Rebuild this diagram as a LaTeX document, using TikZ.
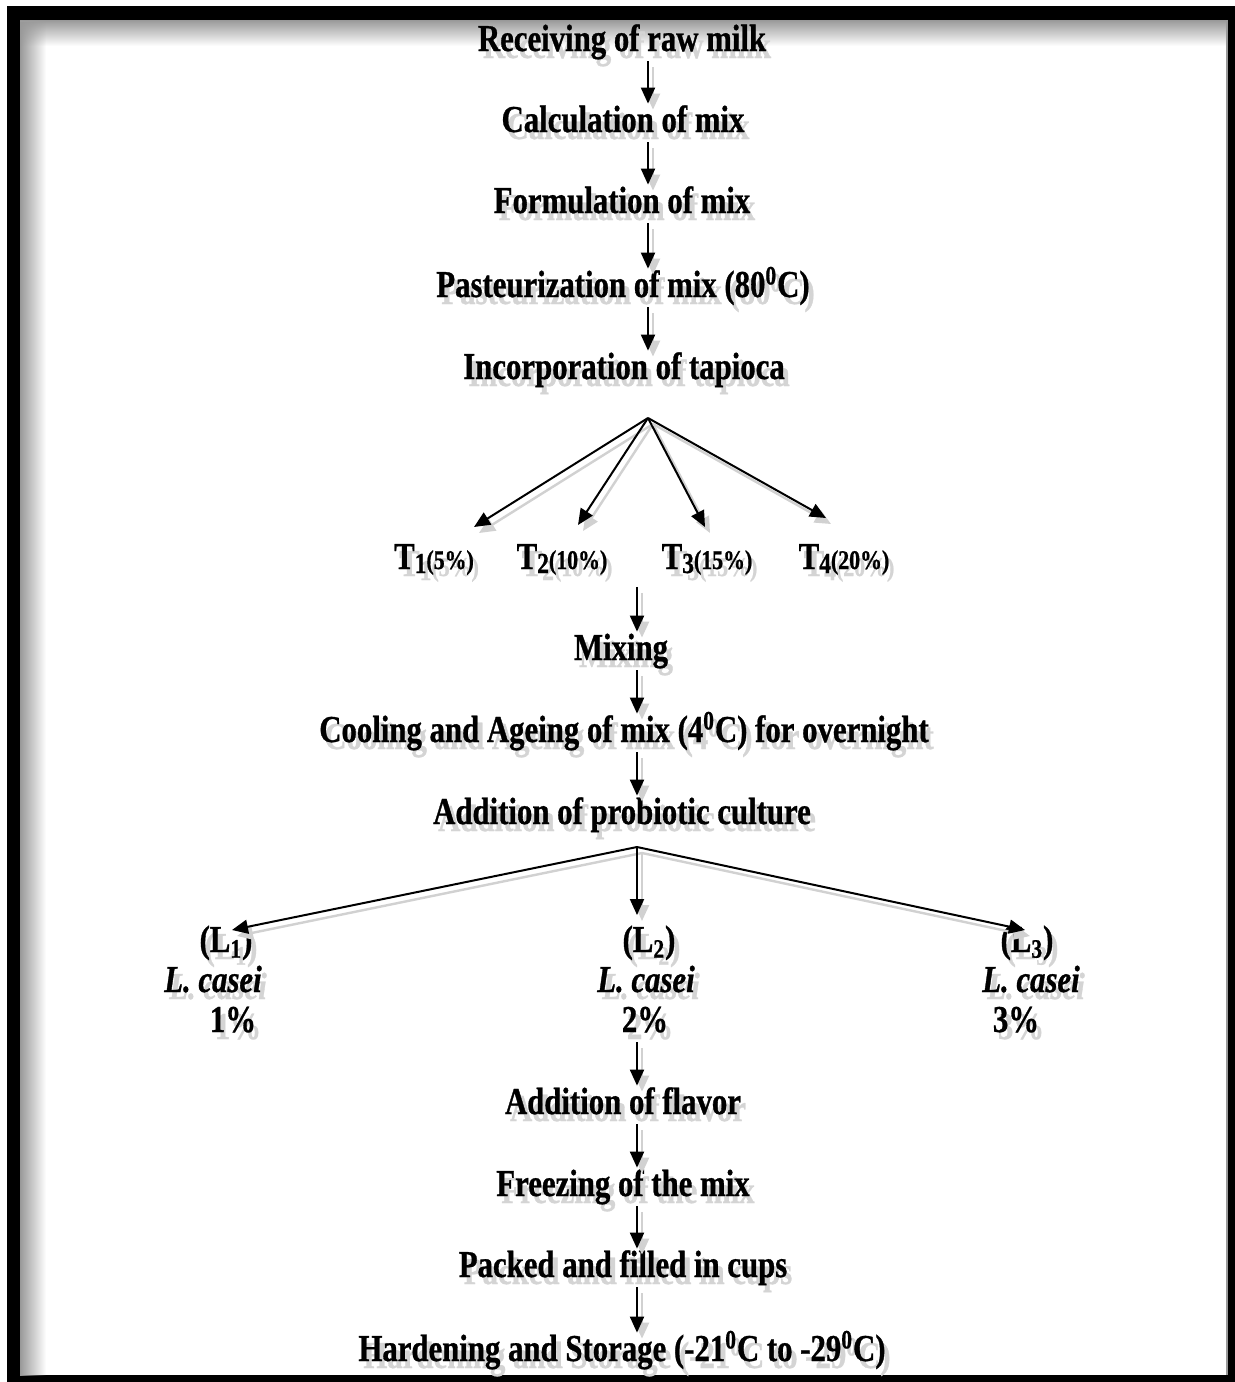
\documentclass[tikz,border=0pt]{standalone}
\usepackage{fontspec}
\setmainfont[FakeStretch=0.81,FakeBold=0.8]{Liberation Serif}
\usetikzlibrary{arrows.meta,fadings}
\newcommand{\shd}[1]{\rlap{\kern2.5pt\raisebox{-3.5pt}{\textcolor{black!17}{#1}}}#1}
\newcommand{\tlab}[2]{T\raisebox{-2pt}{\fontsize{14.5}{14}\selectfont #1}{\fontsize{13.5}{14}\selectfont(#2\%)}}
\tikzset{
  lbl/.style={font=\bfseries\fontsize{19}{22}\selectfont, inner sep=0pt, text height=14pt, text depth=5pt},
  arr/.style={line width=1pt, -{Triangle[length=8pt,width=7pt]},
    preaction={draw=black!18, line width=1.2pt, -{Triangle[length=8pt,width=7pt]}, transform canvas={shift={(2.5pt,-3pt)}}}},
}
\begin{document}
\begin{tikzpicture}[x=0.5pt,y=-0.5pt]
\useasboundingbox (0,0) rectangle (1235,1382);
\fill[white] (0,0) rectangle (1235,1382);
% frame
\fill[black] (7,6) rectangle (1235,1382);
\fill[white] (20,20) rectangle (1228,1375);
\fill[black!40, path fading=south] (20,20) rectangle (1228,46);
\fill[black!40, path fading=east] (20,20) rectangle (46,1375);
\draw[black!40, line width=0.6pt] (1227,20) -- (1227,1375);
\coordinate (cx1) at (648,0);
\coordinate (cx2) at (637,0);
% main column
\node[lbl] (rec)  at (622,42)  {\shd{Receiving of raw milk}};
\node[lbl] (calc) at (623,123) {\shd{Calculation of mix}};
\node[lbl] (form) at (622,204) {\shd{Formulation of mix}};
\node[lbl] (past) at (623,288) {\shd{Pasteurization of mix (80\textsuperscript{0}C)}};
\node[lbl] (inc)  at (624,370) {\shd{Incorporation of tapioca}};
\node[lbl] (t1) at (434,560) {\shd{\tlab{1}{5}}};
\node[lbl] (t2) at (562,560) {\shd{\tlab{2}{10}}};
\node[lbl] (t3) at (707,560) {\shd{\tlab{3}{15}}};
\node[lbl] (t4) at (844,560) {\shd{\tlab{4}{20}}};
\node[lbl] (mix)  at (621,651) {\shd{Mixing}};
\node[lbl] (cool) at (624,733) {\shd{Cooling and Ageing of mix (4\textsuperscript{0}C) for overnight}};
\node[lbl] (prob) at (622,815) {\shd{Addition of probiotic culture}};
\node[lbl] (l1a) at (226,943)  {\shd{(L\textsubscript{1})}};
\node[lbl] (l1b) at (213,983)  {\shd{\itshape L. casei}};
\node[lbl] (l1c) at (233,1023) {\shd{1\%}};
\node[lbl] (l2a) at (649,943)  {\shd{(L\textsubscript{2})}};
\node[lbl] (l2b) at (646,983)  {\shd{\itshape L. casei}};
\node[lbl] (l2c) at (645,1023) {\shd{2\%}};
\node[lbl] (l3a) at (1027,943)  {\shd{(L\textsubscript{3})}};
\node[lbl] (l3b) at (1031,983)  {\shd{\itshape L. casei}};
\node[lbl] (l3c) at (1016,1023) {\shd{3\%}};
\node[lbl] (flav) at (623,1105) {\shd{Addition of flavor}};
\node[lbl] (frz)  at (623,1187) {\shd{Freezing of the mix}};
\node[lbl] (pack) at (623,1268) {\shd{Packed and filled in cups}};
\node[lbl] (hard) at (622,1352) {\shd{Hardening and Storage (-21\textsuperscript{0}C to -29\textsuperscript{0}C)}};
% fan coordinates
\coordinate (f1) at (648,418);
\coordinate (f1a) at (474,527);
\coordinate (f1b) at (578,525);
\coordinate (f1c) at (705,527);
\coordinate (f1d) at (826,518);
\coordinate (f2) at (637,847);
\coordinate (f2a) at (232,930);
\coordinate (f2b) at (637,915);
\coordinate (f2c) at (1025,930);
% arrows
\draw[arr] (rec.south -| cx1) -- (calc.north -| cx1);
\draw[arr] (calc.south -| cx1) -- (form.north -| cx1);
\draw[arr] (form.south -| cx1) -- (past.north -| cx1);
\draw[arr] (past.south -| cx1) -- (inc.north -| cx1);
\draw[arr] (f1) -- (f1a);
\draw[arr] (f1) -- (f1b);
\draw[arr] (f1) -- (f1c);
\draw[arr] (f1) -- (f1d);
\draw[arr, shorten <=3.75pt] (t2.south -| cx2) -- (mix.north -| cx2);
\draw[arr] (mix.south -| cx2) -- (cool.north -| cx2);
\draw[arr] (cool.south -| cx2) -- (prob.north -| cx2);
\draw[arr] (f2) -- (f2a);
\draw[arr] (f2) -- (f2b);
\draw[arr] (f2) -- (f2c);
\draw[arr] (l2c.south -| cx2) -- (flav.north -| cx2);
\draw[arr] (flav.south -| cx2) -- (frz.north -| cx2);
\draw[arr] (frz.south -| cx2) -- (pack.north -| cx2);
\draw[arr] (pack.south -| cx2) -- (hard.north -| cx2);
\end{tikzpicture}
\end{document}
